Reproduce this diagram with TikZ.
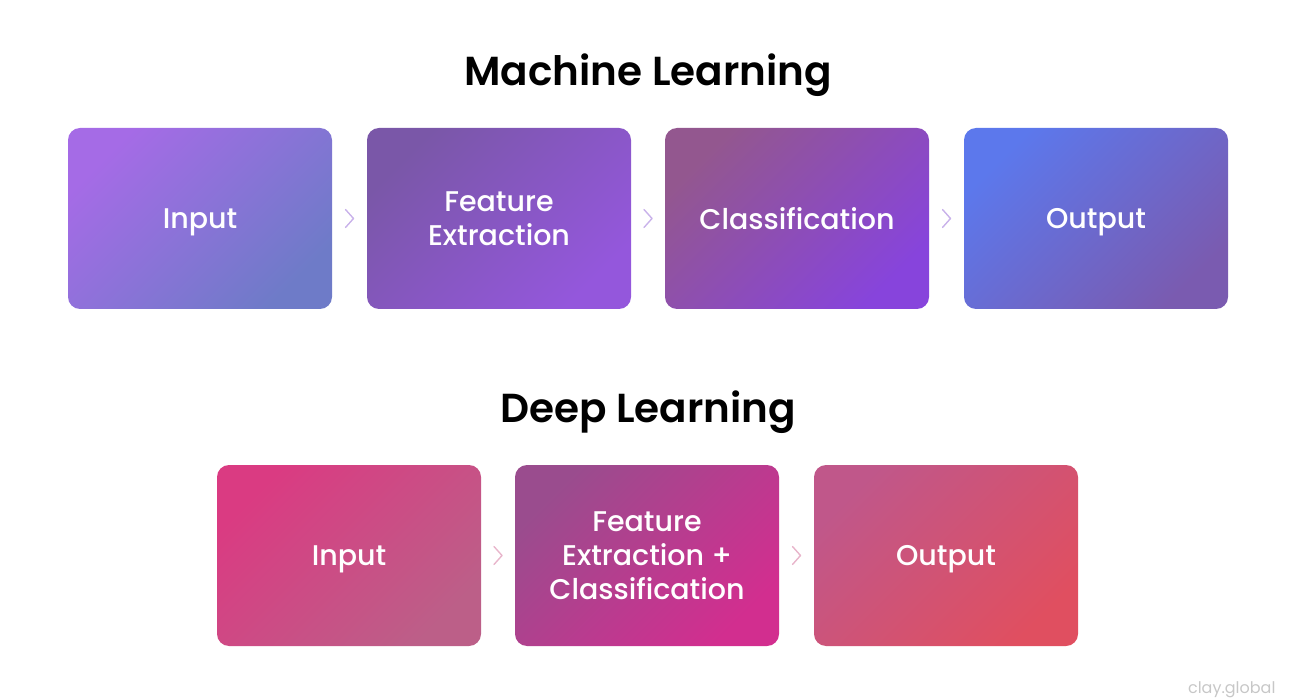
\documentclass[tikz,border=0pt]{standalone}
\usepackage{fontspec}
\setmainfont{Poppins}[BoldFont={Poppins SemiBold}]
\newfontfamily\medfont{Poppins Medium}
\usetikzlibrary{calc}
% 渐变颜色
\definecolor{mlia}{HTML}{A56BE6}\definecolor{mlib}{HTML}{6E7BC8}
\definecolor{mlfa}{HTML}{7A57A8}\definecolor{mlfb}{HTML}{9457DC}
\definecolor{mlca}{HTML}{93578F}\definecolor{mlcb}{HTML}{8744DC}
\definecolor{mloa}{HTML}{5C78EC}\definecolor{mlob}{HTML}{7A5BB0}
\definecolor{dlia}{HTML}{DA3B82}\definecolor{dlib}{HTML}{BC5F88}
\definecolor{dlfa}{HTML}{9A4C8E}\definecolor{dlfb}{HTML}{D22E8F}
\definecolor{dloa}{HTML}{C0578A}\definecolor{dlob}{HTML}{E04F60}
\definecolor{mlchev}{HTML}{C9B2EA}
\definecolor{dlchev}{HTML}{E8B5CB}
\begin{document}
\begin{tikzpicture}
    [
     x=1pt,y=-1pt, % 以像素为单位, y 轴向下
     box/.style={rounded corners=12pt, minimum width=264pt, minimum height=181pt, text depth=0pt,
                 text=white, align=center, font=\medfont\fontsize{28.5}{34}\selectfont},
     chev/.style={line width=1.4pt, line cap=round, line join=round},
     ttl/.style={text depth=0pt, font=\bfseries\fontsize{40.5}{46}\selectfont}
    ]
    \useasboundingbox (0,0) rectangle (1296,700);
    \node[ttl] (mltitle) at (648,70) {Machine Learning};
    \node[ttl] (dltitle) at (648,407) {Deep Learning};
    % 第一行: 机器学习
    \foreach \n/\x/\t/\c in {mi/200/Input/mli,mf/499/Feature\\Extraction/mlf,
                             mc/797/Classification/mlc,mo/1096/Output/mlo}
      \node[box, top color=\c a, bottom color=\c b, shading angle=45] (\n) at (\x,218.5) {\t};
    % 第二行: 深度学习
    \foreach \n/\x/\t/\c in {di/349/Input/dli,df/647/Feature\\Extraction +\\Classification/dlf,
                             do/946/Output/dlo}
      \node[box, top color=\c a, bottom color=\c b, shading angle=45] (\n) at (\x,555.5) {\t};
    % 箭头 (只画尖角)
    \foreach \a/\b/\k in {mi/mf/mlchev,mf/mc/mlchev,mc/mo/mlchev,di/df/dlchev,df/do/dlchev}
      \draw[chev, draw=\k] ($(\a.east)!.5!(\b.west)$) ++(-4pt,-9pt) -- ++(8pt,9pt) -- ++(-8pt,9pt);
    \node[anchor=east, text=black!22, font=\fontsize{16}{18}\selectfont] (wm) at (1279,690) {clay.global};
\end{tikzpicture}
\end{document}
